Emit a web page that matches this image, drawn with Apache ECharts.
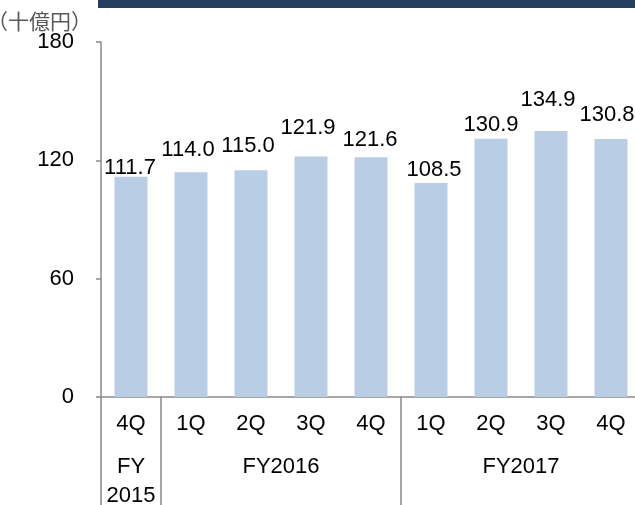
<!DOCTYPE html>
<html>
<head>
<meta charset="utf-8">
<script src="https://cdn.jsdelivr.net/npm/echarts@6/dist/echarts.min.js"></script>
<style>
  html, body { margin: 0; padding: 0; background: #fff; }
  #chart { width: 635px; height: 505px; }
</style>
</head>
<body>
<div id="chart"></div>
<script>
// quarters and values (十億円)
const quarters = ['4Q', '1Q', '2Q', '3Q', '4Q', '1Q', '2Q', '3Q', '4Q']
const values = [111.7, 114.0, 115.0, 121.9, 121.6, 108.5, 130.9, 134.9, 130.8]
// fiscal year groups: label and how many quarters each covers
const yearLabels = ['FY\n2015', 'FY2016', 'FY2017']
const yearSpans = [1, 4, 4]
const yTicks = [0, 60, 120, 180]

// hand placed value labels in the original: [dx, gap above bar] in px
const labelNudge = [[-1, 1], [-3, 14], [-3, 16], [-3, 21], [-1, 9], [3, 5], [0, 6], [-3, 23], [-4, 16]]

// boundaries / centers of the year groups in quarter units
const yearBounds = [0]
const yearCenters = []
yearSpans.forEach(n => {
  const start = yearBounds[yearBounds.length - 1]
  yearCenters.push(start + n / 2)
  yearBounds.push(start + n)
})

const font = "'Liberation Sans', Arial, sans-serif"
const axisGrey = '#898989'

const chart = echarts.init(document.getElementById('chart'))
chart.setOption({
  animation: false,
  textStyle: { fontFamily: font },
  graphic: [{
    type: 'rect',
    shape: { x: 98, y: 0, width: 540, height: 8 },
    style: { fill: '#243f60' }
  }],
  grid: { left: 101, right: -6, top: 42, bottom: 108, outerBoundsMode: 'none', containLabel: false },
  xAxis: [{
    type: 'category',
    data: quarters,
    axisLine: { lineStyle: { color: axisGrey, width: 1.5 } },
    axisTick: { length: 43, lineStyle: { color: axisGrey, width: 1.5 } },
    axisLabel: { color: '#000', fontSize: 22, margin: 16 }
  }, {
    type: 'value',
    position: 'bottom',
    min: 0,
    max: yearBounds[yearBounds.length - 1],
    axisLine: { show: false },
    splitLine: { show: false },
    axisTick: {
      show: true,
      customValues: yearBounds,
      length: 110,
      lineStyle: { color: axisGrey, width: 1.5 }
    },
    axisLabel: {
      customValues: yearCenters,
      formatter: v => yearLabels[yearCenters.indexOf(v)] || '',
      color: '#000',
      fontSize: 22,
      lineHeight: 29,
      margin: 55
    }
  }],
  yAxis: {
    type: 'value',
    min: yTicks[0],
    max: yTicks[yTicks.length - 1],
    interval: 60,
    name: '（十億円）',
    nameLocation: 'end',
    nameGap: 8,
    nameTextStyle: {
      color: '#595959',
      fontSize: 21,
      fontFamily: "'Noto Sans CJK JP', sans-serif",
      align: 'right',
      padding: [0, 9, 0, 0]
    },
    axisLine: { show: true, lineStyle: { color: axisGrey, width: 1.5 } },
    axisTick: { show: true, length: 5, lineStyle: { color: axisGrey, width: 1.5 } },
    splitLine: { show: false },
    axisLabel: { color: '#000', fontSize: 22, margin: 27 }
  },
  series: [{
    type: 'bar',
    data: values.map((v, i) => ({
      value: v,
      label: { offset: [labelNudge[i][0], 3 - labelNudge[i][1]] }
    })),
    barWidth: 33,
    itemStyle: { color: '#b9cde5' },
    label: {
      show: true,
      position: 'top',
      distance: 0,
      color: '#000',
      fontSize: 22,
      formatter: p => p.value.toFixed(1)
    }
  }]
})
</script>
</body>
</html>
